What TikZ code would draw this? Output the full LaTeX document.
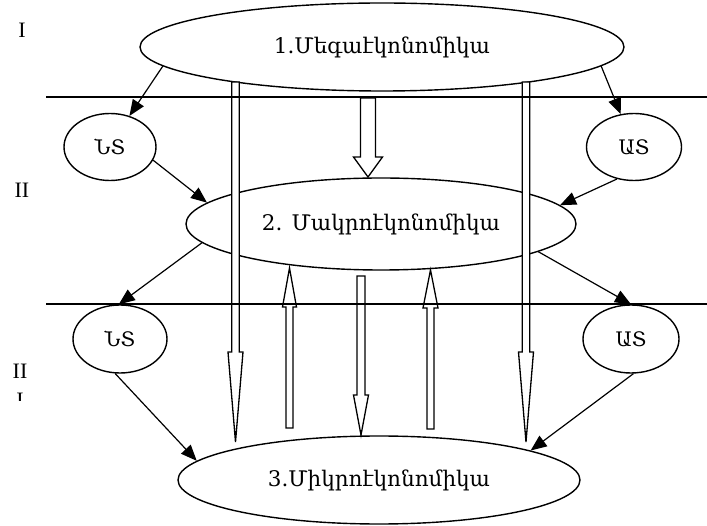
\documentclass[tikz,border=0pt]{standalone}
\usepackage{fontspec}
\setmainfont{Liberation Serif}
\newfontfamily\arm{DejaVu Serif}
\usetikzlibrary{shapes.geometric,arrows.meta}
\tikzset{
  oval/.style={ellipse,draw,line width=1.4pt,inner sep=0pt,font=\arm\fontsize{21.5}{24}\selectfont},
  small/.style={font=\arm\fontsize{20}{22}\selectfont},
  conn/.style={line width=1.2pt,-{Triangle[length=16pt,width=13pt]}},
  hollow/.style={draw,fill=white,line width=1.3pt,line join=miter},
  sep/.style={line width=1.4pt},
  roman/.style={font=\fontsize{22}{24}\selectfont,inner sep=0pt}
}
\newcommand{\blockarrow}[6]{% x, tail y, head base y, tip y, half shaft, half head
  \path[hollow] (#1-#5,#2) -- (#1-#5,#3) -- (#1-#6,#3) -- (#1,#4) -- (#1+#6,#3) -- (#1+#5,#3) -- (#1+#5,#2) -- cycle;}
\begin{document}
\begin{tikzpicture}[x=1pt,y=-1pt]
\useasboundingbox (0,0) rectangle (707,526);
% ellipses
\node[oval,minimum width=484pt,minimum height=88pt] (top) at (382,47) {1.Մեգաէկոնոմիկա};
\node[oval,minimum width=390pt,minimum height=92pt] (mid) at (381,224) {2. Մակրոէկոնոմիկա};
\node[oval,minimum width=402pt,minimum height=88pt] (bot) at (379,480) {3.Միկրոէկոնոմիկա};
\node[oval,small,minimum width=92pt,minimum height=67pt] (ns1) at (110,147) {ՆՏ};
\node[oval,small,minimum width=95pt,minimum height=67pt] (as1) at (634,147) {ԱՏ};
\node[oval,small,minimum width=94pt,minimum height=68pt] (ns2) at (120,339) {ՆՏ};
\node[oval,small,minimum width=96pt,minimum height=68pt] (as2) at (631,339) {ԱՏ};
% hollow arrows
\blockarrow{235.5}{82}{352}{442}{3.8}{7.5}
\blockarrow{526}{82}{352}{442}{3.8}{7.5}
\blockarrow{368}{98}{157}{177}{7.5}{14.5}
\blockarrow{289.5}{428}{307}{268}{3.5}{7}
\blockarrow{361}{276}{395}{435}{4}{7.5}
\blockarrow{430.5}{429}{308}{270}{3.5}{7.5}
% separator lines
\coordinate (l1a) at (46,97);
\coordinate (l1b) at (707,97);
\coordinate (l2a) at (46,304);
\coordinate (l2b) at (707,304);
\draw[sep] (l1a) -- (l1b);
\draw[sep] (l2a) -- (l2b);
% connectors
\draw[conn] (top.185) -- (ns1.58);
\draw[conn] (top.-5) -- (as1.112);
\draw[conn] (ns1.-17) -- (mid.173);
\draw[conn] (as1.242) -- (mid.6);
\draw[conn] (mid.186) -- (ns2.92);
\draw[conn] (mid.-10) -- (as2.90);
\draw[conn] (ns2.262) -- (bot.174);
\draw[conn] (as2.274) -- (bot.11);
% level labels
\node[roman] (r1) at (22,30) {I};
\node[roman] (r2) at (22,190) {II};
\node[roman] (r3) at (20,371) {II};
\begin{scope}
\clip (0,392) rectangle (40,401);
\node[roman] (r4) at (20,400) {I};
\end{scope}
\end{tikzpicture}
\end{document}
